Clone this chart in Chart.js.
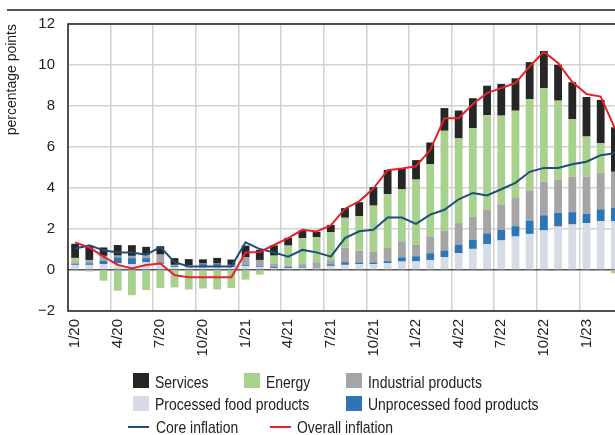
<!DOCTYPE html>
<html lang="en">

<head>
    <meta charset="UTF-8">
    <title>Inflation contributions</title>
    <script src="https://cdn.jsdelivr.net/npm/chart.js"></script>
    <style>
        body {
            margin: 0;
            width: 615px;
            height: 435px;
            overflow: hidden;
            background: #fff;
            font-family: 'Liberation Sans', Arial, sans-serif;
            color: #222;
        }

        .top-rule {
            position: absolute;
            left: 7px;
            top: 9px;
            width: 608px;
            height: 2px;
            background: #555;
        }

        .chart-box {
            position: absolute;
            left: 0;
            top: 0;
            width: 622px;
            height: 435px;
        }

        .legend {
            position: absolute;
            left: 0;
            top: 0;
            font-size: 17px;
        }

        /* the reference uses a condensed face; squeeze the regular one */
        .legend span {
            position: absolute;
            white-space: nowrap;
            line-height: 20px;
            transform: scaleX(0.82);
            transform-origin: left center;
        }

        .legend .box {
            position: absolute;
            width: 16px;
            height: 15px;
        }

        .legend .ln {
            position: absolute;
            width: 21px;
            height: 2px;
        }
    </style>
</head>

<body>
    <div class="top-rule"></div>
    <div class="chart-box"><canvas id="contrib"></canvas></div>
    <div class="legend">
        <div class="box" style="left:133px;top:373px;background:#262626"></div>
        <span style="left:155px;top:373px">Services</span>
        <div class="box" style="left:244px;top:373px;background:#a9d18e"></div>
        <span style="left:266px;top:373px">Energy</span>
        <div class="box" style="left:346px;top:373px;background:#a5a5a5"></div>
        <span style="left:368px;top:373px">Industrial products</span>

        <div class="box" style="left:133px;top:396px;background:#d6dce5"></div>
        <span style="left:155px;top:395px">Processed food products</span>
        <div class="box" style="left:346px;top:396px;background:#2e75b6"></div>
        <span style="left:368px;top:395px">Unprocessed food products</span>

        <div class="ln" style="left:128px;top:426px;background:#1f4e79"></div>
        <span style="left:156px;top:418px">Core inflation</span>
        <div class="ln" style="left:270px;top:426px;background:#e8202a"></div>
        <span style="left:297px;top:418px">Overall inflation</span>
    </div>
    <script>
        // months 1/20 .. 3/23
        const months = [
            '1/20', '2/20', '3/20', '4/20', '5/20', '6/20', '7/20', '8/20', '9/20', '10/20', '11/20', '12/20',
            '1/21', '2/21', '3/21', '4/21', '5/21', '6/21', '7/21', '8/21', '9/21', '10/21', '11/21', '12/21',
            '1/22', '2/22', '3/22', '4/22', '5/22', '6/22', '7/22', '8/22', '9/22', '10/22', '11/22', '12/22',
            '1/23', '2/23', '3/23'
        ];

        // contributions, percentage points
        const processedFood = [
            0.25, 0.25, 0.29, 0.33, 0.29, 0.37, 0.30, 0.15, 0.13, 0.16, 0.16, 0.13,
            0.20, 0.14, 0.10, 0.09, 0.10, 0.07, 0.20, 0.25, 0.29, 0.29, 0.33, 0.41,
            0.42, 0.49, 0.62, 0.83, 1.03, 1.27, 1.44, 1.63, 1.76, 1.93, 2.12, 2.22,
            2.29, 2.39, 2.39
        ];
        const unprocessedFood = [
            0.05, 0.08, 0.16, 0.29, 0.29, 0.21, 0.07, 0.05, 0.08, 0.13, 0.13, 0.10,
            0.05, 0.04, 0.05, 0.05, 0.03, 0.02, 0.08, 0.13, 0.08, 0.08, 0.10, 0.21,
            0.25, 0.33, 0.33, 0.41, 0.44, 0.52, 0.52, 0.51, 0.65, 0.74, 0.67, 0.60,
            0.46, 0.57, 0.65
        ];
        const industrial = [
            0.08, 0.16, 0.24, 0.08, 0.11, 0.16, 0.38, 0.05, 0.03, 0.02, 0.02, 0.02,
            0.37, 0.31, 0.15, 0.08, 0.16, 0.29, 0.20, 0.70, 0.57, 0.52, 0.64, 0.78,
            0.57, 0.82, 0.95, 1.05, 1.14, 1.14, 1.24, 1.37, 1.47, 1.63, 1.63, 1.72,
            1.80, 1.78, 1.75
        ];
        const energy = [
            0.21, -0.07, -0.52, -1.01, -1.23, -0.98, -0.88, -0.85, -0.95, -0.90, -0.95, -0.88,
            -0.47, -0.23, 0.40, 0.97, 1.26, 1.23, 1.36, 1.47, 1.68, 2.25, 2.63, 2.53,
            3.17, 3.53, 4.89, 4.13, 4.30, 4.62, 4.33, 4.26, 4.46, 4.58, 3.84, 2.81,
            1.96, 1.44, -0.16
        ];
        const services = [
            0.69, 0.70, 0.41, 0.52, 0.52, 0.39, 0.41, 0.33, 0.29, 0.21, 0.28, 0.26,
            0.57, 0.49, 0.50, 0.38, 0.38, 0.25, 0.36, 0.47, 0.69, 0.90, 1.18, 1.01,
            0.95, 1.05, 1.11, 1.36, 1.47, 1.44, 1.55, 1.58, 1.80, 1.80, 1.75, 1.81,
            1.93, 2.12, 2.17
        ];
        const coreInflation = [
            1.05, 1.20, 0.96, 0.85, 0.85, 0.74, 1.12, 0.38, 0.17, 0.17, 0.17, 0.17,
            1.35, 1.02, 0.86, 0.65, 0.98, 0.86, 0.65, 1.56, 1.89, 1.96, 2.56, 2.56,
            2.25, 2.70, 2.94, 3.45, 3.76, 3.64, 3.94, 4.25, 4.79, 4.98, 4.98, 5.16,
            5.28, 5.60, 5.69
        ];
        const overallInflation = [
            1.35, 1.10, 0.65, 0.25, 0.07, 0.24, 0.32, -0.25, -0.35, -0.35, -0.35, -0.35,
            0.85, 0.88, 1.22, 1.55, 1.96, 1.88, 2.17, 2.99, 3.35, 3.97, 4.87, 4.95,
            5.06, 5.85, 7.40, 7.40, 8.10, 8.63, 8.87, 9.12, 9.93, 10.64, 10.10, 9.17,
            8.58, 8.46, 6.91
        ];

        const sans = "'Liberation Sans', Arial, sans-serif";

        // box around the plot area
        const frame = {
            id: 'frame',
            afterDatasetsDraw(chart) {
                const a = chart.chartArea;
                const ctx = chart.ctx;
                ctx.save();
                ctx.strokeStyle = '#222';
                ctx.lineWidth = 1.5;
                ctx.strokeRect(a.left, a.top, a.right - a.left, a.bottom - a.top);
                ctx.restore();
            }
        };

        function bar(label, data, color) {
            return {
                type: 'bar',
                label: label,
                data: data,
                backgroundColor: color,
                borderWidth: 0,
                barPercentage: 0.55,
                categoryPercentage: 1,
                order: 2
            };
        }

        new Chart(document.getElementById('contrib'), {
            data: {
                labels: months,
                datasets: [
                    bar('Processed food products', processedFood, '#d6dce5'),
                    bar('Unprocessed food products', unprocessedFood, '#2e75b6'),
                    bar('Industrial products', industrial, '#a5a5a5'),
                    bar('Energy', energy, '#a9d18e'),
                    bar('Services', services, '#262626'),
                    {
                        type: 'line',
                        label: 'Overall inflation',
                        data: overallInflation,
                        borderColor: '#e8202a',
                        borderWidth: 2,
                        pointRadius: 0,
                        tension: 0,
                        stack: 'overall',
                        order: 0
                    },
                    {
                        type: 'line',
                        label: 'Core inflation',
                        data: coreInflation,
                        borderColor: '#1f4e79',
                        borderWidth: 2,
                        pointRadius: 0,
                        tension: 0,
                        stack: 'core',
                        order: 1
                    }
                ]
            },
            options: {
                responsive: true,
                maintainAspectRatio: false,
                animation: false,
                layout: { padding: { top: 24, right: 0, left: 0, bottom: 0 } },
                plugins: {
                    legend: { display: false },
                    tooltip: { enabled: false }
                },
                scales: {
                    x: {
                        stacked: true,
                        offset: true,
                        border: { display: false },
                        grid: {
                            offset: true,
                            drawTicks: false,
                            lineWidth: 1.5,
                            color: ctx => (ctx.index % 3 === 0 ? '#d2d2d2' : 'rgba(0,0,0,0)')
                        },
                        ticks: {
                            autoSkip: false,
                            maxRotation: 90,
                            minRotation: 90,
                            padding: 8,
                            color: '#222',
                            font: { family: sans, size: 15 },
                            callback: function (value, index) {
                                return index % 3 === 0 ? months[index] : '';
                            }
                        },
                        afterFit: s => {
                            s.height = 124;
                            s.paddingLeft = 0;
                            s.paddingRight = 0;
                        }
                    },
                    y: {
                        stacked: true,
                        min: -2,
                        max: 12,
                        border: { display: false },
                        grid: {
                            drawTicks: false,
                            lineWidth: 1.5,
                            color: ctx => (ctx.tick && ctx.tick.value === 0 ? '#555' : '#d2d2d2')
                        },
                        ticks: {
                            stepSize: 2,
                            padding: 13,
                            color: '#222',
                            font: { family: sans, size: 15 },
                            callback: v => (v < 0 ? '\u2212' + Math.abs(v) : v)
                        },
                        title: {
                            display: true,
                            text: 'percentage points',
                            align: 'end',
                            color: '#222',
                            padding: { top: 4, bottom: 0 },
                            font: { family: sans, size: 14 }
                        },
                        afterFit: s => { s.width = 68; }
                    }
                }
            },
            plugins: [frame]
        });
    </script>
</body>

</html>
